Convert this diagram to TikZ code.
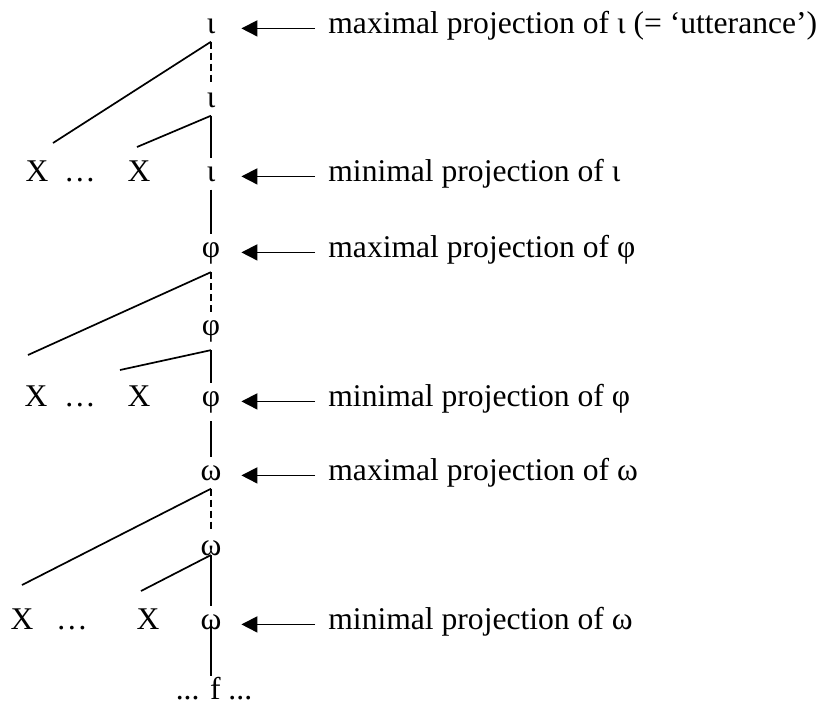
\documentclass[tikz,border=0pt]{standalone}
\usepackage{fontspec}
\setmainfont{Liberation Serif}
\usetikzlibrary{arrows.meta}

\begin{document}
\begin{tikzpicture}[x=0.5pt,y=-0.5pt,font=\fontsize{15.8}{19}\selectfont,
			cat/.style={anchor=base,inner xsep=0pt,inner ysep=4pt,minimum width=30pt},
			leaf/.style={anchor=base,inner sep=0pt},
			lbl/.style={anchor=base west,inner sep=0pt},
			pointer/.style={-{Triangle[length=8pt,width=8pt]},line width=0.85pt,shorten <=6.5pt},
			branch/.style={line width=0.85pt},
			bar/.style={line width=0.85pt,dash pattern=on 3.5pt off 2pt}]
			\useasboundingbox (0,0) rectangle (825,707);
			% utterance level
			\node[cat] (iMax) at (211,33) {ι};
			\node[cat] (iBar) at (211,107) {ι};
			\node[cat] (iMin) at (211,181) {ι};
			\node[leaf] (xi1) at (37,181) {X};
			\node[leaf] (di) at (80,181) {…};
			\node[leaf] (xi2) at (139,181) {X};
			\coordinate (iLong) at (53,143);
			\coordinate (iShort) at (137,147);
			\node[lbl] (liMax) at (328,33) {maximal projection of ι (= ‘utterance’)};
			\node[lbl] (liMin) at (328,181) {minimal projection of ι};
			% phrase level
			\node[cat] (pMax) at (211,257) {φ};
			\node[cat] (pBar) at (211,335) {φ};
			\node[cat] (pMin) at (211,406) {φ};
			\node[leaf] (xp1) at (36,406) {X};
			\node[leaf] (dp) at (80,406) {…};
			\node[leaf] (xp2) at (139,406) {X};
			\coordinate (pLong) at (28,355);
			\coordinate (pShort) at (120,370);
			\node[lbl] (lpMax) at (328,257) {maximal projection of φ};
			\node[lbl] (lpMin) at (328,406) {minimal projection of φ};
			% word level
			\node[cat] (wMax) at (211,480) {ω};
			\node[cat] (wBar) at (211,555) {ω};
			\node[cat] (wMin) at (211,629) {ω};
			\node[leaf] (xw1) at (22,629) {X};
			\node[leaf] (dw) at (72,629) {…};
			\node[leaf] (xw2) at (148,629) {X};
			\coordinate (wLong) at (22,585);
			\coordinate (wShort) at (141,591);
			\node[lbl] (lwMax) at (328,480) {maximal projection of ω};
			\node[lbl] (lwMin) at (328,629) {minimal projection of ω};
			\node[leaf] (f) at (214,699) {... f ...};
			% arrows
			\draw[pointer] (liMax.mid west) -- (iMax.mid east);
			\draw[pointer] (liMin.mid west) -- (iMin.mid east);
			\draw[pointer] (lpMax.mid west) -- (pMax.mid east);
			\draw[pointer] (lpMin.mid west) -- (pMin.mid east);
			\draw[pointer] (lwMax.mid west) -- (wMax.mid east);
			\draw[pointer] (lwMin.mid west) -- (wMin.mid east);
			% tree
			\draw[bar] (iMax.south) -- (iBar.north);
			\draw[branch] (iMax.south) -- (iLong);
			\draw[branch] (iBar.south) -- (iShort);
			\draw[branch] (iBar.south) -- (iMin.north);
			\draw[branch] (iMin.south) -- (pMax.north);
			\draw[bar] (pMax.south) -- (pBar.north);
			\draw[branch] (pMax.south) -- (pLong);
			\draw[branch] (pBar.south) -- (pShort);
			\draw[branch] (pBar.south) -- (pMin.north);
			\draw[branch] (pMin.south) -- (wMax.north);
			\draw[bar] (wMax.south) -- (wBar.north);
			\draw[branch] (wMax.south) -- (wLong);
			\draw[branch] (wBar.base) -- (wShort);
			\draw[branch] (wBar.base) -- (wMin.north);
			\draw[branch] (wMin.center) -- (wMin.center |- f.north);
\end{tikzpicture}
\end{document}
